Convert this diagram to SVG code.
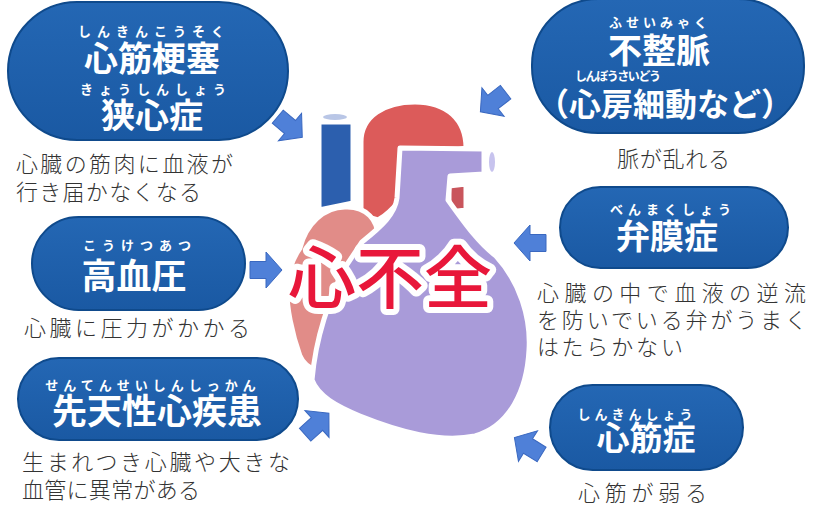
<svg xmlns="http://www.w3.org/2000/svg" xmlns:xlink="http://www.w3.org/1999/xlink" width="822" height="508" viewBox="0 0 822 508">
  <style>
    .pill { fill: url(#pillFill); stroke: #0f4a8c; stroke-width: 2; }
    .ruby { font-family: "Noto Sans CJK JP", sans-serif; font-weight: 700; font-size: 13px; fill: #ffffff; text-anchor: middle; }
    .title { font-family: "Noto Sans CJK JP", sans-serif; font-weight: 700; font-size: 34px; fill: #ffffff; text-anchor: middle; }
    .desc { font-family: "Noto Sans CJK JP", sans-serif; font-weight: 300; font-size: 22px; fill: #333333; }
    .arrow { fill: #4f80d8; stroke: #3a68c0; stroke-width: 1; }
    .part { stroke: #ffffff; stroke-width: 5; stroke-linejoin: round; }
    .center-label { font-family: "Noto Sans CJK JP", sans-serif; font-weight: 500; font-size: 68px; fill: #e8173a; stroke: #ffffff; stroke-width: 12; stroke-linejoin: round; paint-order: stroke; text-anchor: middle; }
  </style>
  <defs>
    <linearGradient id="pillFill" x1="0" y1="0" x2="0" y2="1">
      <stop offset="0" stop-color="#2467b4"/>
      <stop offset="1" stop-color="#1a59a3"/>
    </linearGradient>
    <path id="arr" d="M -16 -8.5 L 0 -8.5 L 0 -18 L 16 0 L 0 18 L 0 8.5 L -16 8.5 Z"/>
  </defs>

  <rect width="822" height="508" fill="#ffffff"/>

  <!-- central heart -->
  <g id="node-heart">
    <!-- superior vena cava -->
    <path class="part" d="M 319 122 L 353 122 L 353 203 L 319 210 Z" fill="#2c5fae"/>
    <ellipse cx="335" cy="117" rx="12" ry="3" fill="#b9c6e6"/>
    <!-- aortic arch -->
    <path class="part" d="M 361 215 L 361 142 C 361 116 385 102 415 102 C 447 102 466 120 466 148 L 446 152 L 404 150 L 400 200 C 392 210 385 216 378 220 Z" fill="#dc5b5a"/>
    <!-- pulmonary vein / left atrium pieces -->
    <path class="part" d="M 449 186 L 466 184 L 466 210 L 449 212 Z" fill="#c9555c"/>
    <path class="part" d="M 451 218 C 463 220 474 232 478 248 L 452 248 Z" fill="#e59590"/>
    <!-- right atrium -->
    <path class="part" d="M 300 248 C 306 224 324 207 345 207 C 366 206 379 220 378 240 L 372 300 L 342 368 C 324 376 306 370 300 356 C 292 334 286 306 287 286 C 288 272 293 258 300 248 Z" fill="#e18c88"/>
    <!-- ventricles and pulmonary trunk -->
    <path class="part" d="M 312 380 C 316 334 330 300 342 272 L 362 242 C 382 226 395 214 397 198 L 400 148 L 484 149 L 484 174 L 450 176 L 448 200 C 468 228 480 244 496 256 C 520 282 531 318 529 350 C 527 390 510 426 475 436 C 440 443 400 432 360 416 C 336 406 318 396 312 380 Z" fill="#a99bd9"/>
    <ellipse cx="492" cy="162" rx="3" ry="10" fill="#c7c3ee"/>
    <text class="center-label" x="390" y="303">心不全</text>
  </g>

  <!-- arrows pointing towards the heart -->
  <g id="connectors">
    <use xlink:href="#arr" class="arrow" transform="translate(290 127) rotate(40)"/>
    <use xlink:href="#arr" class="arrow" transform="translate(493 102) rotate(142)"/>
    <use xlink:href="#arr" class="arrow" transform="translate(266 270)"/>
    <use xlink:href="#arr" class="arrow" transform="translate(530 243) rotate(180)"/>
    <use xlink:href="#arr" class="arrow" transform="translate(317 424) rotate(-42)"/>
    <use xlink:href="#arr" class="arrow" transform="translate(528 446) rotate(-148)"/>
  </g>

  <!-- myocardial infarction / angina -->
  <g id="node-infarction">
    <rect class="pill" x="8" y="2" width="280" height="138" rx="69"/>
    <text class="ruby" x="154" y="36" letter-spacing="6">しんきんこうそく</text>
    <text class="title" x="152" y="71">心筋梗塞</text>
    <text class="ruby" x="156" y="94" letter-spacing="6">きょうしんしょう</text>
    <text class="title" x="152" y="128">狭心症</text>
    <text class="desc" x="16" y="172" textLength="217" lengthAdjust="spacing">心臓の筋肉に血液が</text>
    <text class="desc" x="16" y="200" textLength="185" lengthAdjust="spacing">行き届かなくなる</text>
  </g>

  <!-- arrhythmia -->
  <g id="node-arrhythmia">
    <rect class="pill" x="532" y="-1" width="272" height="134" rx="66"/>
    <text class="ruby" x="660" y="27" letter-spacing="4">ふせいみゃく</text>
    <text class="title" x="659" y="63">不整脈</text>
    <text class="ruby" x="575" y="81" style="text-anchor:start; font-size:12px" textLength="86" lengthAdjust="spacing">しんぼうさいどう</text>
    <text class="title" x="665" y="116" style="font-size:32px">（心房細動など）</text>
    <text class="desc" x="617" y="167" textLength="113" lengthAdjust="spacing">脈が乱れる</text>
  </g>

  <!-- hypertension -->
  <g id="node-hypertension">
    <rect class="pill" x="32" y="217" width="213" height="93" rx="46.5"/>
    <text class="ruby" x="140" y="250" letter-spacing="6">こうけつあつ</text>
    <text class="title" x="134" y="289" style="font-size:35px">高血圧</text>
    <text class="desc" x="24" y="336" textLength="226" lengthAdjust="spacing">心臓に圧力がかかる</text>
  </g>

  <!-- valvular disease -->
  <g id="node-valve">
    <rect class="pill" x="560" y="187" width="228" height="81" rx="40.5"/>
    <text class="ruby" x="673" y="214" letter-spacing="5">べんまくしょう</text>
    <text class="title" x="667" y="249">弁膜症</text>
    <text class="desc" x="537" y="301" textLength="269" lengthAdjust="spacing">心臓の中で血液の逆流</text>
    <text class="desc" x="537" y="328" textLength="270" lengthAdjust="spacing">を防いでいる弁がうまく</text>
    <text class="desc" x="537" y="355" textLength="146" lengthAdjust="spacing">はたらかない</text>
  </g>

  <!-- congenital heart disease -->
  <g id="node-congenital">
    <rect class="pill" x="18" y="358" width="280" height="82" rx="41"/>
    <text class="ruby" x="153" y="390" letter-spacing="5">せんてんせいしんしっかん</text>
    <text class="title" x="157" y="424" style="font-size:35px">先天性心疾患</text>
    <text class="desc" x="22" y="470" textLength="268" lengthAdjust="spacing">生まれつき心臓や大きな</text>
    <text class="desc" x="22" y="498" textLength="178" lengthAdjust="spacing">血管に異常がある</text>
  </g>

  <!-- cardiomyopathy -->
  <g id="node-cardiomyopathy">
    <rect class="pill" x="550" y="385" width="193" height="85" rx="42.5"/>
    <text class="ruby" x="637" y="419" letter-spacing="4">しんきんしょう</text>
    <text class="title" x="646" y="450" style="font-size:33px">心筋症</text>
    <text class="desc" x="578" y="501" textLength="129" lengthAdjust="spacing">心筋が弱る</text>
  </g>
</svg>
